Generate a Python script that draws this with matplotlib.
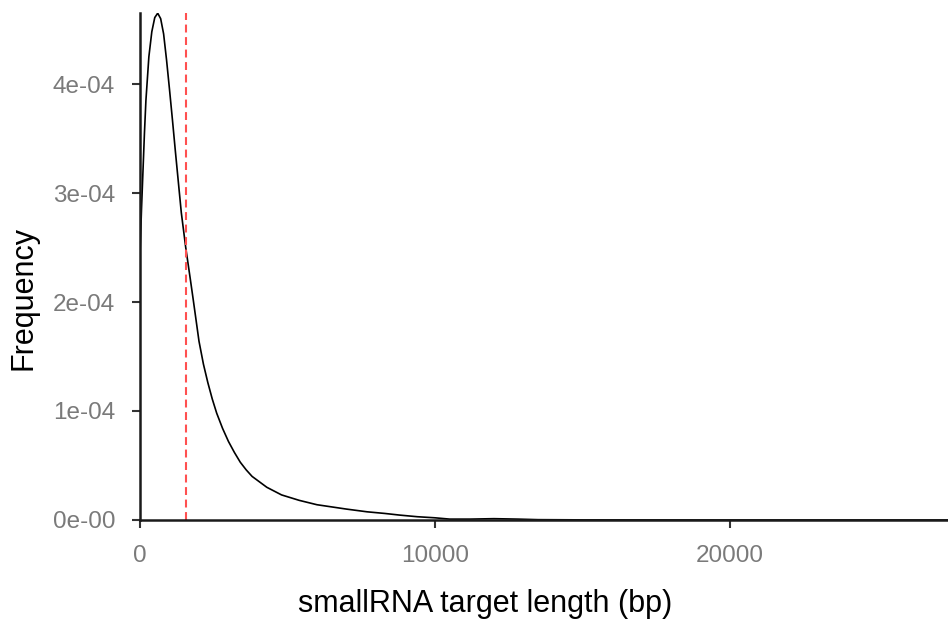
import matplotlib
matplotlib.use("Agg")
import matplotlib.pyplot as plt

# density curve (x in bp, y in units of 1e-04)
length_bp = [0, 50, 100, 150, 200, 300, 400, 500, 600, 700, 800, 900, 1000,
             1100, 1200, 1300, 1400, 1550, 1700, 1800, 2000, 2150, 2300, 2450,
             2600, 2800, 3000, 3200, 3400, 3600, 3800, 4300, 4800, 5400, 6000,
             6500, 7000, 7700, 8300, 8800, 9400, 10000, 10500, 11200, 12000,
             12800, 13500, 15000, 20000, 27400]
density_e4 = [2.45, 2.85, 3.20, 3.55, 3.85, 4.25, 4.48, 4.61, 4.65, 4.60,
              4.46, 4.22, 3.95, 3.67, 3.38, 3.10, 2.82, 2.50, 2.22, 2.03,
              1.64, 1.43, 1.26, 1.11, 0.98, 0.84, 0.72, 0.62, 0.53, 0.46,
              0.40, 0.30, 0.23, 0.18, 0.14, 0.12, 0.10, 0.075, 0.06, 0.045,
              0.03, 0.02, 0.008, 0.008, 0.012, 0.008, 0.003, 0.001, 0.0, 0.0]
density = [v * 1e-4 for v in density_e4]

median_len = 1550

x_ticks = [0, 10000, 20000]
y_ticks = [0, 1e-4, 2e-4, 3e-4, 4e-4]
y_labels = ["0e-00", "1e-04", "2e-04", "3e-04", "4e-04"]

plt.rcParams['font.family'] = ['Liberation Sans', 'DejaVu Sans']

fig = plt.figure(figsize=(9.48, 6.28), dpi=100)
ax = fig.add_axes([0.1477, 0.172, 0.8523, 0.807])

ax.plot(length_bp, density, color="black", lw=1.2, solid_joinstyle="round")
ax.axvline(median_len, color="#ff5050", lw=1.5, ls=(0, (3.8, 2.2)))

ax.set_xlim(0, 27400)
ax.set_ylim(0, 4.65e-4)
ax.set_xticks(x_ticks)
ax.set_xticklabels([str(t) for t in x_ticks])
ax.set_yticks(y_ticks)
ax.set_yticklabels(y_labels)

for side in ["top", "right"]:
    ax.spines[side].set_visible(False)
for side in ["left", "bottom"]:
    ax.spines[side].set_color("#1a1a1a")
    ax.spines[side].set_linewidth(1.8)

ax.tick_params(axis="both", direction="out", length=6, width=1.5,
               color="#333333", labelcolor="#7a7a7a", labelsize=17.5)
ax.tick_params(axis="y", pad=12)
ax.tick_params(axis="x", pad=12)

ax.set_xlabel("smallRNA target length (bp)", fontsize=22, va="center")
ax.set_ylabel("Frequency", fontsize=22, va="center")
ax.xaxis.set_label_coords(0.427, -0.166)
ax.yaxis.set_label_coords(-0.1436, 0.438)

fig.savefig("out.png", dpi=100)
